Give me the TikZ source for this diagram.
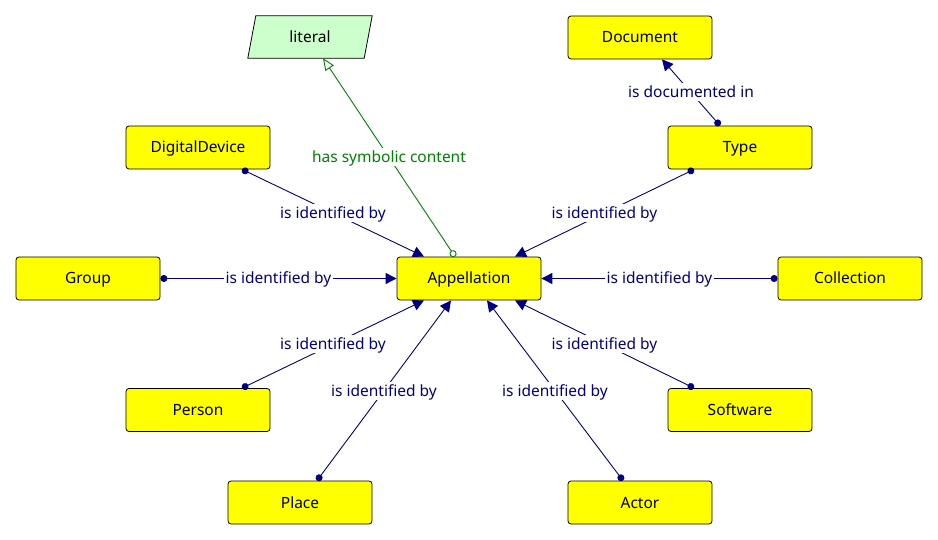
\documentclass[tikz,border=0pt]{standalone}
\usepackage{fontspec}
\setmainfont{Noto Sans}
\usetikzlibrary{arrows.meta,calc}
\definecolor{navy}{RGB}{0,0,128}
\definecolor{rel}{RGB}{0,128,0}
\definecolor{litfill}{RGB}{204,255,204}
\definecolor{yel}{RGB}{255,255,0}
\begin{document}
\begin{tikzpicture}[x=1pt,y=-1pt,
  txt/.style={font=\fontsize{15.5}{18}\selectfont,text height=13pt,text depth=2pt},
  box/.style={txt,draw=black,fill=yel,rounded corners=3pt,line width=0.8pt,minimum width=144pt,minimum height=43pt,inner sep=0pt},
  conn/.style={navy,line width=0.9pt,{Circle[length=7pt]}-{Triangle[length=11pt,width=11pt]}},
  lbl/.style={txt,fill=white,inner sep=1.5pt,text=navy}]
\useasboundingbox (0,0) rectangle (938,540);
% nodes
\node[minimum width=124pt,minimum height=42pt,inner sep=0pt] (lit) at (310,37) {};
\draw[fill=litfill,line width=0.8pt] ($(lit.north west)+(8,0)$) -- (lit.north east) -- ($(lit.south east)+(-8,0)$) -- (lit.south west) -- cycle;
\node[txt] at (lit) {literal};
\node[box] (doc) at (640,37.5) {Document};
\node[box] (dd) at (198,147.5) {DigitalDevice};
\node[box] (type) at (740,147.5) {Type};
\node[box] (grp) at (88,278.5) {Group};
\node[box] (app) at (469,278.5) {Appellation};
\node[box] (col) at (850,278.5) {Collection};
\node[box] (per) at (198,410) {Person};
\node[box] (sw) at (740,410) {Software};
\node[box] (pl) at (300,502.5) {Place};
\node[box] (act) at (640,502.5) {Actor};
% connectors
\draw[conn] ([xshift=44pt]dd.south) -- node[lbl]{is identified by} ([xshift=-45pt]app.north);
\draw[conn] ([xshift=-46pt]type.south) -- node[lbl]{is identified by} ([xshift=46pt]app.north);
\draw[conn] (grp.east) -- node[lbl]{is identified by} (app.west);
\draw[conn] (col.west) -- node[lbl]{is identified by} (app.east);
\draw[conn] ([xshift=44pt]per.north) -- node[lbl]{is identified by} ([xshift=-45pt]app.south);
\draw[conn] ([xshift=-46pt]sw.north) -- node[lbl]{is identified by} ([xshift=46pt]app.south);
\draw[conn] ([xshift=17pt]pl.north) -- node[lbl]{is identified by} ([xshift=-18pt]app.south);
\draw[conn] ([xshift=-17pt]act.north) -- node[lbl]{is identified by} ([xshift=18pt]app.south);
\draw[conn] ([xshift=-20pt]type.north) -- node[lbl]{is documented in} ([xshift=22pt]doc.south);
\draw[rel,line width=0.9pt,{Circle[open,length=7pt]}-{Triangle[open,length=12pt,width=10pt]}] ([xshift=-14pt]app.north) -- node[lbl,text=rel]{has symbolic content} ([xshift=13pt]lit.south);
\end{tikzpicture}
\end{document}
